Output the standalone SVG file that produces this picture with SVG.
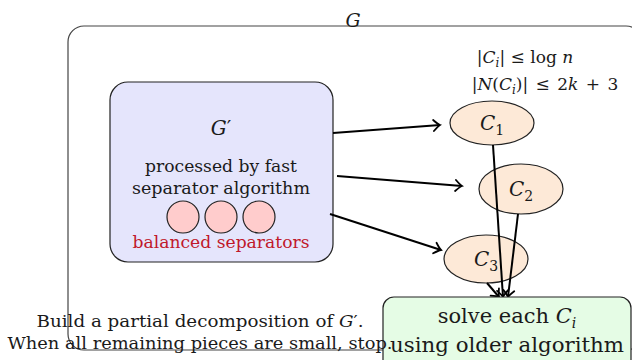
<svg xmlns="http://www.w3.org/2000/svg" width="632" height="360" viewBox="0 0 632 360">
<style>
text{font-family:"DejaVu Serif","Liberation Serif",serif;fill:#1a1a1a;}
.it{font-style:italic;}
.box{stroke:#222;stroke-width:1.2;}
.cn{fill:#fde9d7;stroke:#222;stroke-width:1.2;}
.sep{fill:#ffcccc;stroke:#222;stroke-width:1.2;}
.edge{stroke:#000;stroke-width:2;fill:none;marker-end:url(#to);}
</style>
<defs>
<marker id="to" viewBox="-7 -7 10 14" refX="1" refY="0" markerWidth="10" markerHeight="14" markerUnits="userSpaceOnUse" orient="auto">
<path d="M-5.5,-5.5 Q-1,-1 1,0 Q-1,1 -5.5,5.5" fill="none" stroke="#000" stroke-width="1.8" stroke-linecap="round"/>
</marker>
</defs>
<g id="G">
<rect x="68" y="26" width="574" height="324" rx="16" fill="none" stroke="#444" stroke-width="1.2"/>
<text x="353" y="27" font-size="19" class="it" text-anchor="middle">G</text>
</g>
<g id="Gprime">
<rect class="box" x="110" y="82" width="223" height="180" rx="18" fill="#e5e5fc"/>
<text x="221" y="135" font-size="20" class="it" text-anchor="middle">G<tspan font-style="normal">′</tspan></text>
<text x="221" y="172" font-size="17" text-anchor="middle" textLength="152" lengthAdjust="spacingAndGlyphs">processed by fast</text>
<text x="221" y="194" font-size="17" text-anchor="middle" textLength="178" lengthAdjust="spacingAndGlyphs">separator algorithm</text>
<circle class="sep" cx="183" cy="217" r="16"/>
<circle class="sep" cx="221" cy="217" r="16"/>
<circle class="sep" cx="259" cy="217" r="16"/>
<text x="221" y="248" font-size="17" text-anchor="middle" style="fill:#c0182a" textLength="177" lengthAdjust="spacingAndGlyphs">balanced separators</text>
</g>
<g id="constraints">
<text x="525" y="63" font-size="17" text-anchor="middle">|<tspan class="it">C</tspan><tspan class="it" font-size="12" dy="4">i</tspan><tspan dy="-4">| ≤ log </tspan><tspan class="it">n</tspan></text>
<text x="545" y="90" font-size="17" text-anchor="middle">|<tspan class="it">N</tspan>(<tspan class="it">C</tspan><tspan class="it" font-size="12" dy="4">i</tspan><tspan dy="-4">)| <tspan dx="2">≤</tspan> <tspan dx="2">2</tspan></tspan><tspan class="it">k</tspan> <tspan dx="2">+</tspan> <tspan dx="2">3</tspan></text>
</g>
<g id="C1">
<ellipse class="cn" cx="492" cy="123" rx="42" ry="22"/>
<text x="492" y="130" font-size="20" text-anchor="middle"><tspan class="it">C</tspan><tspan font-size="14" dy="5">1</tspan></text>
</g>
<g id="C2">
<ellipse class="cn" cx="521" cy="189" rx="42" ry="25"/>
<text x="521" y="196" font-size="20" text-anchor="middle"><tspan class="it">C</tspan><tspan font-size="14" dy="5">2</tspan></text>
</g>
<g id="C3">
<ellipse class="cn" cx="486" cy="259" rx="42" ry="24"/>
<text x="486" y="266" font-size="20" text-anchor="middle"><tspan class="it">C</tspan><tspan font-size="14" dy="5">3</tspan></text>
</g>
<g id="connectors">
<line class="edge" x1="333" y1="133" x2="440" y2="125"/>
<line class="edge" x1="337" y1="176" x2="462" y2="186"/>
<line class="edge" x1="330" y1="214" x2="441" y2="250"/>
<line class="edge" x1="493" y1="145" x2="503" y2="297"/>
<line class="edge" x1="518" y1="214" x2="508" y2="297"/>
<line class="edge" x1="487" y1="283" x2="499" y2="297"/>
</g>
<g id="solve">
<rect class="box" x="383" y="297" width="248" height="80" rx="11" fill="#e5fce5"/>
<text x="507" y="323" font-size="21" text-anchor="middle">solve each <tspan class="it">C</tspan><tspan class="it" font-size="14" dy="5">i</tspan></text>
<text x="507" y="352" font-size="21" text-anchor="middle" textLength="234" lengthAdjust="spacingAndGlyphs">using older algorithm</text>
</g>
<g id="caption">
<text x="200" y="327" font-size="16" text-anchor="middle" textLength="327" lengthAdjust="spacingAndGlyphs">Build a partial decomposition of <tspan class="it">G</tspan>′.</text>
<text x="200" y="349" font-size="16" text-anchor="middle" textLength="385" lengthAdjust="spacingAndGlyphs">When all remaining pieces are small, stop.</text>
</g>
</svg>
